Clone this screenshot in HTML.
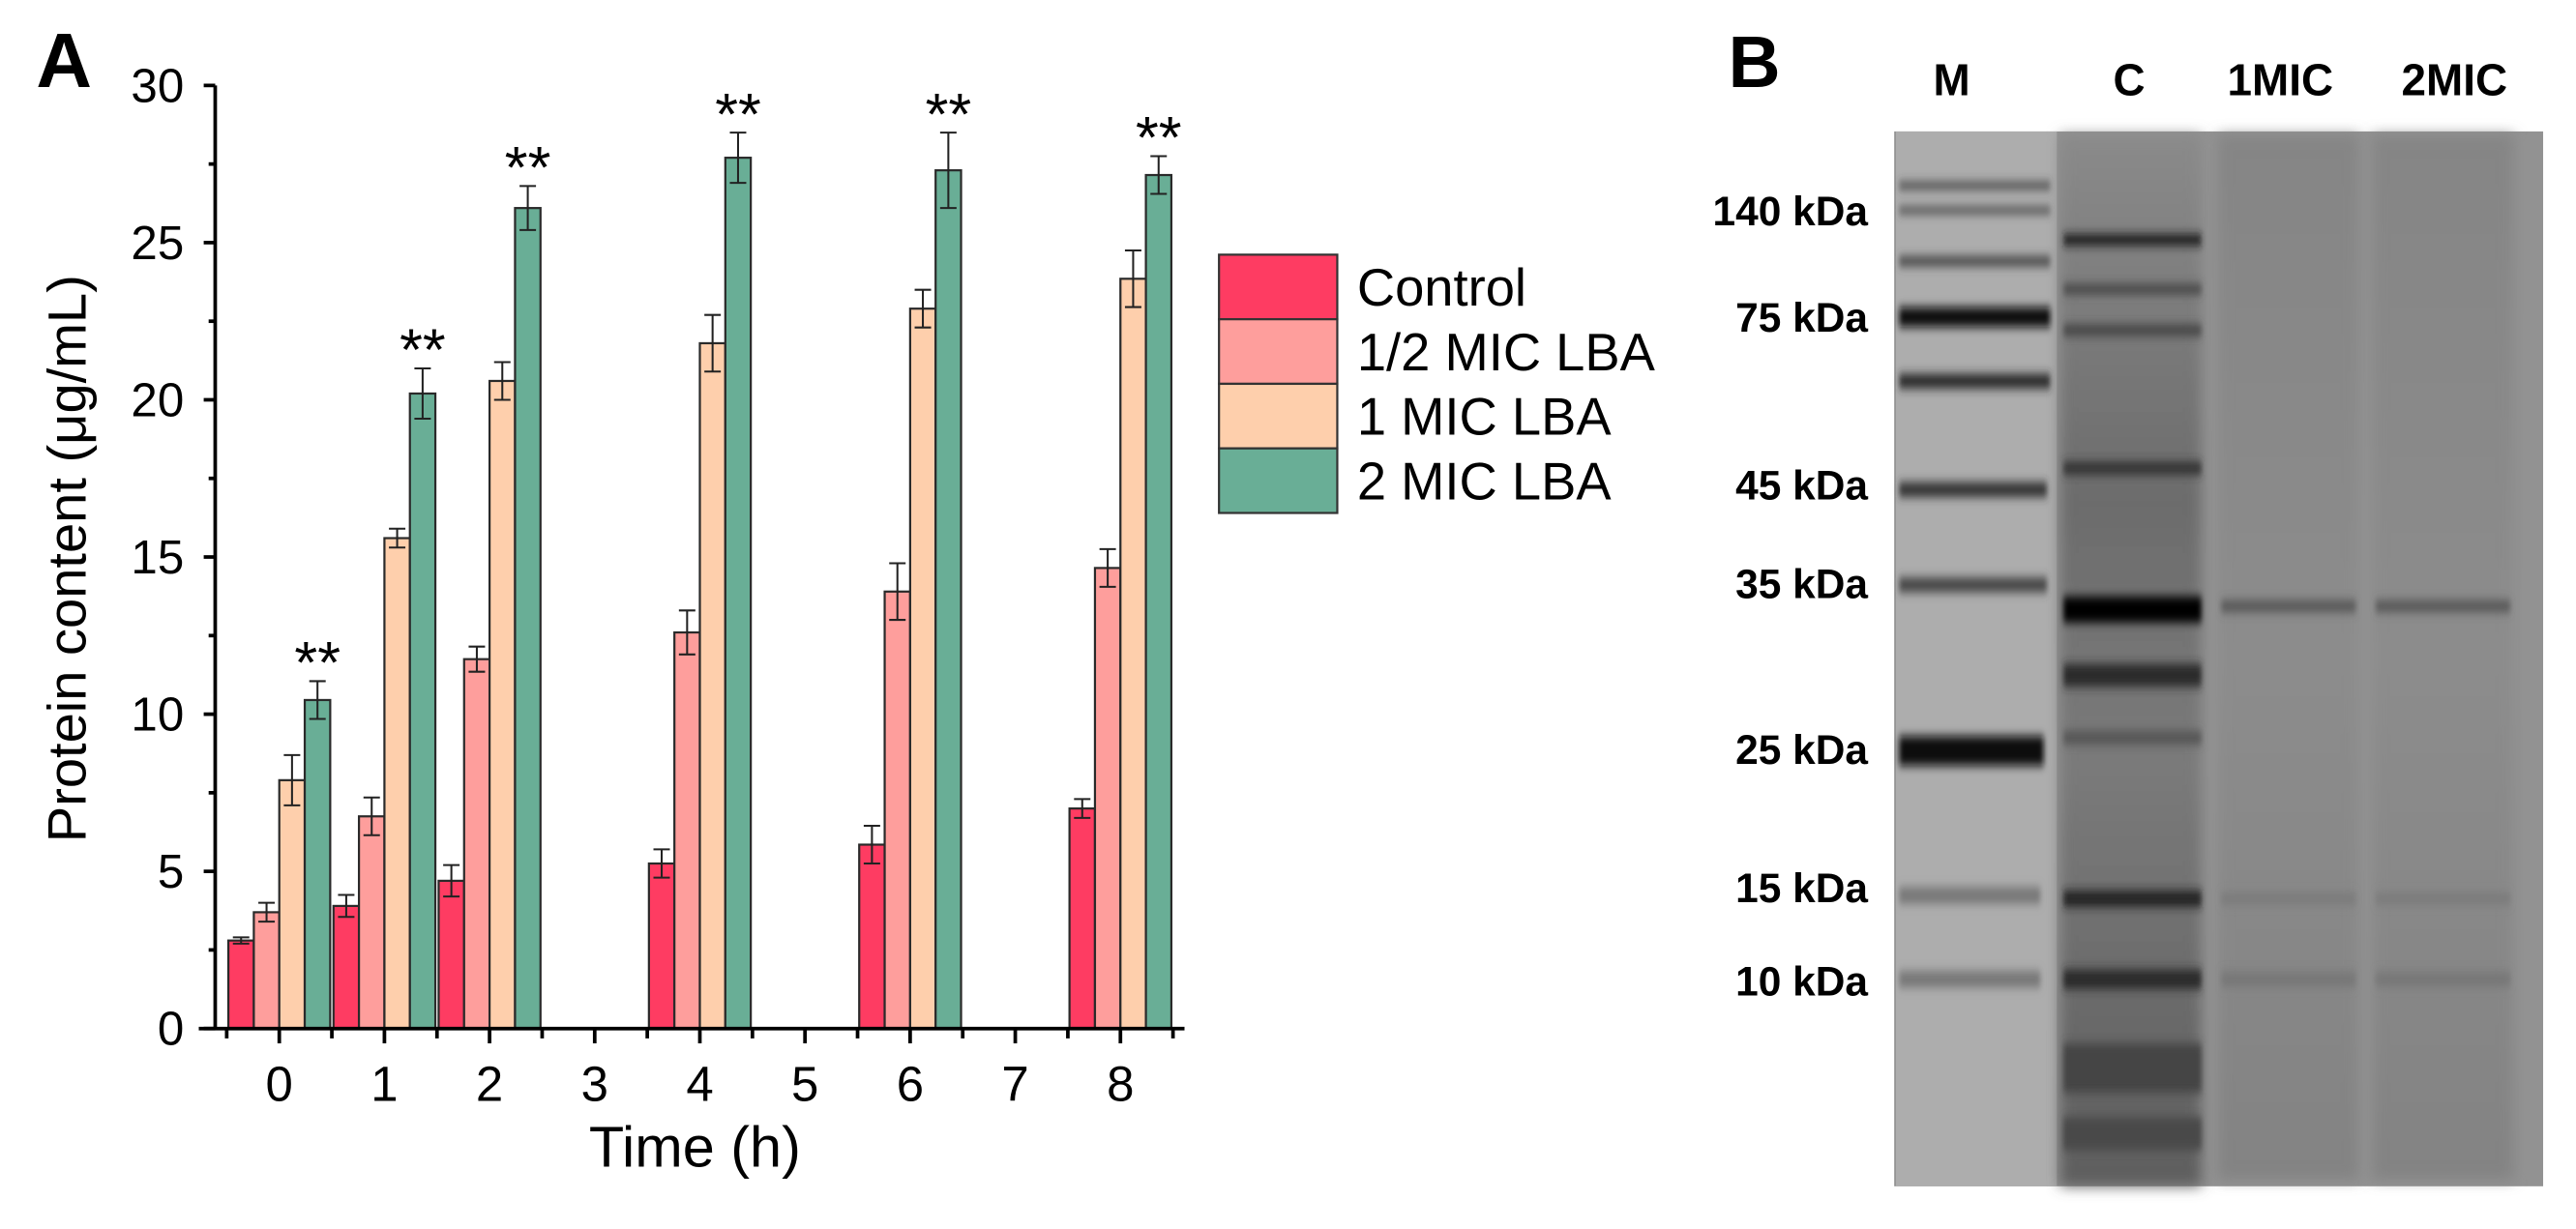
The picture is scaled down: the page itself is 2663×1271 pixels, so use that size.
<!DOCTYPE html>
<html><head><meta charset="utf-8"><style>
html,body{margin:0;padding:0;background:#fff;}
svg{display:block;font-family:"Liberation Sans",Arial,sans-serif;}
</style></head><body>
<svg id="fig" width="2663" height="1271" viewBox="0 0 1568 748" preserveAspectRatio="none">
<defs>
<filter id="bl" x="-20%" y="-300%" width="140%" height="700%"><feGaussianBlur stdDeviation="1.5 3"/></filter>
<filter id="bl2" x="-10%" y="-10%" width="120%" height="120%"><feGaussianBlur stdDeviation="4"/></filter>
<linearGradient id="cg" x1="0" y1="0" x2="0" y2="1"><stop offset="0" stop-color="#8a8a8a"/><stop offset="0.35" stop-color="#6c6c6c"/><stop offset="0.6" stop-color="#7a7a7a"/><stop offset="1" stop-color="#5e5e5e"/></linearGradient>
<linearGradient id="lg1" x1="0" y1="0" x2="0" y2="1"><stop offset="0" stop-color="#858585"/><stop offset="0.5" stop-color="#8c8c8c"/><stop offset="1" stop-color="#838383"/></linearGradient>
</defs>
<text x="22" y="53" font-size="47" font-weight="bold">A</text>
<g id="chart"></g>
<g id="legend"></g>
<text x="1052" y="53" font-size="44" font-weight="bold">B</text>
<g id="gel"></g>
</svg>
<script>
const categories=[0,1,2,3,4,5,6,7,8];
const seriesNames=["Control","1/2 MIC LBA","1 MIC LBA","2 MIC LBA"];
const controlVals=[2.8,3.9,4.7,null,5.25,null,5.85,null,7.0];
const halfVals=[3.7,6.75,11.75,null,12.6,null,13.9,null,14.65];
const oneVals=[7.9,15.6,20.6,null,21.8,null,22.9,null,23.85];
const twoVals=[10.45,20.2,26.1,null,27.7,null,27.3,null,27.15];
const controlErr=[0.1,0.35,0.5,null,0.45,null,0.6,null,0.3];
const halfErr=[0.3,0.6,0.4,null,0.7,null,0.9,null,0.6];
const oneErr=[0.8,0.3,0.6,null,0.9,null,0.6,null,0.9];
const twoErr=[0.6,0.8,0.7,null,0.8,null,1.2,null,0.6];
const yTicks=[0,5,10,15,20,25,30];
const colors=["#fe3c62","#fe9e9c","#fecfac","#69ae96"];
const NS="http://www.w3.org/2000/svg";
function mk(tag,attrs,parent,txt){const e=document.createElementNS(NS,tag);for(const k in attrs)e.setAttribute(k,attrs[k]);if(txt!=null)e.textContent=txt;parent.appendChild(e);return e;}
const y=v=>626-v*(574/30);
const x=c=>170+c*64;
const chart=document.getElementById('chart');
const vals=[controlVals,halfVals,oneVals,twoVals],errs=[controlErr,halfErr,oneErr,twoErr];
const bw=15.5;
categories.forEach((c,i)=>{
  vals.forEach((s,k)=>{
    if(s[i]==null)return;
    const bx=x(c)-2*bw+k*bw;
    const r=mk('rect',{x:bx,y:y(s[i]),width:bw,height:y(0)-y(s[i]),fill:colors[k],stroke:"#2a2a2a","stroke-width":1.3},chart);
    
    
    const cx=bx+bw/2,e=errs[k][i];
    const g=mk('g',{stroke:"#222","stroke-width":1.2},chart);
    
    
    mk('line',{x1:cx,x2:cx,y1:y(s[i]-e),y2:y(s[i]+e)},g);
    mk('line',{x1:cx-5,x2:cx+5,y1:y(s[i]+e),y2:y(s[i]+e)},g);
    mk('line',{x1:cx-5,x2:cx+5,y1:y(s[i]-e),y2:y(s[i]-e)},g);
    if(k==3){
      const t=mk('text',{x:cx,y:y(s[i]+e)+1,"font-size":36,"text-anchor":"middle"},chart,"**");
      
      
    }
  });
});
const ax=mk('g',{stroke:"#000","stroke-width":2.2},chart);


mk('line',{x1:131,x2:131,y1:y(30),y2:y(0)+1},ax);
mk('line',{x1:121,x2:721,y1:y(0),y2:y(0)},ax);
yTicks.forEach(v=>{
  mk('line',{x1:124,x2:131,y1:y(v),y2:y(v)},ax);
  if(v<30)mk('line',{x1:127,x2:131,y1:y(v+2.5),y2:y(v+2.5)},ax);
  const t=mk('text',{x:112,y:y(v)+10,"font-size":29,"text-anchor":"end",stroke:"none"},chart,v);
  
  
});
categories.forEach(c=>{
  mk('line',{x1:x(c),x2:x(c),y1:y(0),y2:y(0)+9},ax);
  mk('line',{x1:x(c)-32,x2:x(c)-32,y1:y(0),y2:y(0)+6},ax);
  if(c==8)mk('line',{x1:x(c)+32,x2:x(c)+32,y1:y(0),y2:y(0)+6},ax);
  const t=mk('text',{x:x(c),y:670,"font-size":30,"text-anchor":"middle"},chart,c);
  
  
});
let t=mk('text',{x:423,y:710,"font-size":35,"text-anchor":"middle"},chart,"Time (h)");


t=mk('text',{x:0,y:0,"font-size":33,"text-anchor":"middle",transform:"translate(52,340) rotate(-90)"},chart,"Protein content (μg/mL)");


const lg=document.getElementById('legend');
seriesNames.forEach((n,k)=>{
  const r=mk('rect',{x:742,y:155+k*39.3,width:72,height:39.3,fill:colors[k],stroke:"#333","stroke-width":1.3},lg);
  
  
  const tt=mk('text',{x:826,y:186+k*39.3,"font-size":32},lg,n);
  
  
});
const gel=document.getElementById('gel');
mk('rect',{x:1153,y:80,width:395,height:642,fill:"#929292"},gel);
mk('rect',{x:1154,y:80,width:98,height:642,fill:"#adadad"},gel);
mk('rect',{x:1254,y:82,width:86,height:640,fill:"url(#cg)",filter:"url(#bl2)"},gel);
mk('rect',{x:1350,y:82,width:86,height:636,fill:"url(#lg1)",filter:"url(#bl2)"},gel);
mk('rect',{x:1444,y:82,width:86,height:636,fill:"url(#lg1)",filter:"url(#bl2)"},gel);
const bands=[[1156,113,92,4,"#3a3a3a"],[1156,128,92,4,"#444"],[1156,159,92,6,"#444"],[1156,193,92,12,"#0a0a0a"],[1156,232,92,9,"#2a2a2a"],[1156,298,90,9,"#333"],[1156,356,90,9,"#444"],[1156,457,88,18,"#0a0a0a"],[1156,545,86,10,"#777"],[1156,596,86,10,"#777"],
[1256,146,84,7,"#1a1a1a"],[1256,176,84,6,"#444"],[1256,201,84,7,"#444"],[1256,285,84,8,"#333"],[1256,371,84,16,"#050505"],[1256,411,84,14,"#2a2a2a"],[1256,449,84,8,"#555"],[1256,547,84,10,"#222"],[1256,596,84,12,"#2a2a2a"],[1256,650,84,30,"#444"],[1256,690,84,20,"#4a4a4a"],
[1352,369,82,7,"#555"],[1352,547,82,7,"#7a7a7a"],[1352,596,82,9,"#777"],
[1446,369,82,7,"#555"],[1446,547,82,7,"#7a7a7a"],[1446,596,82,9,"#777"]];
bands.forEach(b=>mk('rect',{x:b[0],y:b[1]-b[3]/2,width:b[2],height:b[3],fill:b[4],filter:"url(#bl)"},gel));
const laneLabels=[["M",1188],["C",1296],["1MIC",1388],["2MIC",1494]];
laneLabels.forEach(l=>{const tt=mk('text',{x:l[1],y:58,"font-size":27,"font-weight":"bold","text-anchor":"middle"},gel,l[0]);

});
const kda=[["140 kDa",128],["75 kDa",193],["45 kDa",295],["35 kDa",355],["25 kDa",456],["15 kDa",540],["10 kDa",597]];
kda.forEach(k=>{const tt=mk('text',{x:1137,y:k[1]+9,"font-size":25,"font-weight":"bold","text-anchor":"end"},gel,k[0]);

});
</script>
</body></html>
